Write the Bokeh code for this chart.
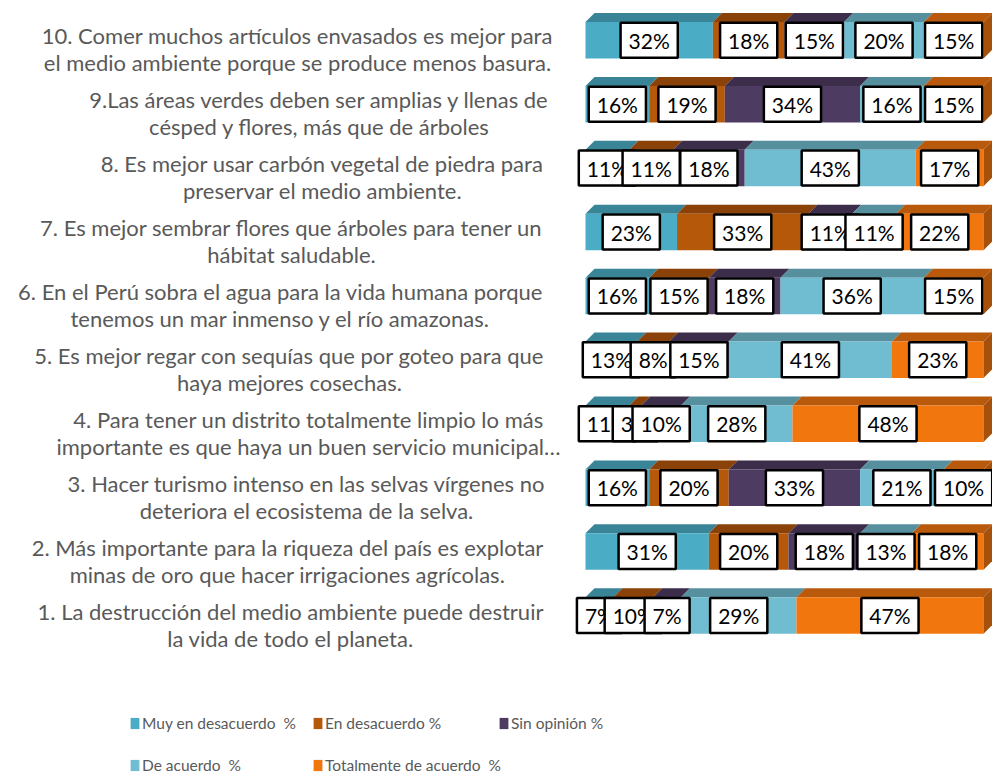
from bokeh.plotting import figure
from bokeh.models import ColumnDataSource, Range1d, Legend, LegendItem
from bokeh.core.properties import value
from bokeh.embed import file_html
from bokeh.resources import INLINE

# ---------------- data (rows 1..10, bottom to top) ----------------
questions = [
    "1. La destrucción del medio ambiente puede destruir\nla vida de todo el planeta.",
    "2. Más importante para la riqueza del país es explotar\nminas de oro que hacer irrigaciones agrícolas.",
    "3. Hacer turismo intenso en las selvas vírgenes no\ndeteriora el ecosistema de la selva.",
    "4. Para tener un distrito totalmente limpio lo más\nimportante es que haya un buen servicio municipal…",
    "5. Es mejor regar con sequías que por goteo para que\nhaya mejores cosechas.",
    "6. En el Perú sobra el agua para la vida humana porque\ntenemos un mar inmenso y el río amazonas.",
    "7. Es mejor sembrar flores que árboles para tener un\nhábitat saludable.",
    "8. Es mejor usar carbón vegetal de piedra para\npreservar el medio ambiente.",
    "9.Las áreas verdes deben ser amplias y llenas de\ncésped y flores, más que de árboles",
    "10. Comer muchos artículos envasados es mejor para\nel medio ambiente porque se produce menos basura.",
]
series_names = ["Muy en desacuerdo  %", "En desacuerdo %", "Sin opinión %",
                "De acuerdo  %", "Totalmente de acuerdo  %"]
muy_en_desacuerdo = [7, 31, 16, 11, 13, 16, 23, 11, 16, 32]
en_desacuerdo = [10, 20, 20, 3, 8, 15, 33, 11, 19, 18]
sin_opinion = [7, 18, 33, 10, 15, 18, 11, 18, 34, 15]
de_acuerdo = [29, 13, 21, 28, 41, 36, 11, 43, 16, 20]
totalmente_de_acuerdo = [47, 18, 10, 48, 23, 15, 22, 17, 15, 15]
series_values = [muy_en_desacuerdo, en_desacuerdo, sin_opinion, de_acuerdo, totalmente_de_acuerdo]

# ---------------- styles / layout ----------------
front_colors = ["#4AACC5", "#B6580A", "#4E3B62", "#70BCD1", "#F2760E"]
top_colors = ["#3A8497", "#8A4208", "#3C2D4B", "#56909F", "#B9590C"]
side_color = "#A5510B"
label_color = "#595959"

W, H = 992, 778
KX = 3.98          # px per percent
KY = 63.92         # px per row
X0 = -585 / KX
X1 = X0 + W / KX
Y1 = 10 + 39.75 / KY
Y0 = Y1 - H / KY
BAR_H = 36.5 / KY
DX = 9 / KX
DY = 9 / KY

# screen-x centres of the category label blocks (layout)
label_centers_px = [290, 287, 306, 308, 289, 280, 291, 322, 319, 297]

def sx_to_data(sx):
    return X0 + sx / KX

rows = list(range(1, len(questions) + 1))

p = figure(width=W, height=H, x_range=Range1d(X0, X1), y_range=Range1d(Y0, Y1),
           output_backend="svg", toolbar_location=None, min_border=0,
           x_axis_location=None, y_axis_location=None)
p.grid.visible = False
p.outline_line_color = None
p.background_fill_color = "white"
p.border_fill_color = "white"

cum = [0.0] * len(rows)
front_renderers = []
label_sources = []
for s, vals in enumerate(series_values):
    left = cum[:]
    right = [l + v for l, v in zip(left, vals)]
    cum = right
    # top 3D faces
    xs = [[l, r, r + DX, l + DX] for l, r in zip(left, right)]
    ys = [[y + BAR_H / 2, y + BAR_H / 2, y + BAR_H / 2 + DY, y + BAR_H / 2 + DY] for y in rows]
    p.patches(xs=xs, ys=ys, fill_color=top_colors[s], line_color=None)
    src = ColumnDataSource(dict(y=rows, left=left, right=right,
                                cx=[(l + r) / 2 for l, r in zip(left, right)],
                                lab=[f"{v}%" for v in vals]))
    r = p.hbar(y="y", left="left", right="right", height=BAR_H, source=src,
               fill_color=front_colors[s], line_color=None)
    front_renderers.append(r)
    label_sources.append(src)

# right side face of last segment
sxs = [[c, c + DX, c + DX, c] for c in cum]
sys = [[y - BAR_H / 2, y - BAR_H / 2 + DY, y + BAR_H / 2 + DY, y + BAR_H / 2] for y in rows]
p.patches(xs=sxs, ys=sys, fill_color=side_color, line_color=None)

# boxed data labels
for src in label_sources:
    p.text(x="cx", y="y", text="lab", source=src,
           text_font=value("Lato"), text_font_size="21px", text_color="black",
           text_align="center", text_baseline="middle",
           background_fill_color="white", border_line_color="black",
           border_line_width=2.5,
           padding=dict(left=8, right=8, top=5, bottom=5))

# category labels
p.text(x=[sx_to_data(c) for c in label_centers_px], y=rows, text=questions,
       text_font=value("Lato"), text_font_size="22px", text_color=label_color,
       text_align="center", text_baseline="middle", y_offset=9,
       text_line_height=1.0)

# legends (three columns)
def make_legend(items, loc):
    lg = Legend(items=items, location=loc, orientation="vertical",
                background_fill_alpha=0, border_line_alpha=0,
                padding=0, margin=0, spacing=22,
                glyph_width=11, glyph_height=14, label_standoff=2,
                label_height=20,
                label_text_font="Lato", label_text_font_size="15.5px",
                label_text_color=label_color)
    p.add_layout(lg)
    return lg

make_legend([LegendItem(label=series_names[0], renderers=[front_renderers[0]]),
             LegendItem(label=series_names[3], renderers=[front_renderers[3]])], (129, 3))
make_legend([LegendItem(label=series_names[1], renderers=[front_renderers[1]]),
             LegendItem(label=series_names[4], renderers=[front_renderers[4]])], (312, 3))
make_legend([LegendItem(label=series_names[2], renderers=[front_renderers[2]])], (498, 45))

open("out.html", "w").write(file_html(p, INLINE))
